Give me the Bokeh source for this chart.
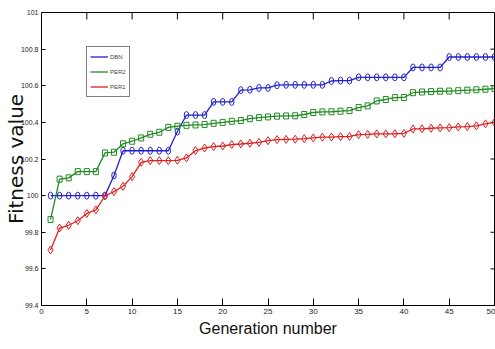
import math
from bokeh.plotting import figure
from bokeh.models import Range1d, Legend, LegendItem, FixedTicker, ColumnDataSource
from bokeh.embed import file_html
from bokeh.resources import INLINE

# ---- data ----
generations = list(range(1, 51))
dbn = [100.0, 100.0, 100.0, 100.0, 100.0, 100.0, 100.0, 100.11, 100.245, 100.245,
       100.245, 100.245, 100.245, 100.245, 100.35, 100.44, 100.44, 100.44, 100.512, 100.512,
       100.512, 100.576, 100.578, 100.588, 100.588, 100.603, 100.605, 100.605, 100.605, 100.605,
       100.605, 100.626, 100.628, 100.628, 100.646, 100.646, 100.646, 100.646, 100.646, 100.646,
       100.70, 100.70, 100.70, 100.70, 100.757, 100.757, 100.757, 100.757, 100.757, 100.757]
per2 = [99.87, 100.09, 100.097, 100.131, 100.131, 100.131, 100.233, 100.237, 100.283, 100.297,
        100.315, 100.335, 100.346, 100.373, 100.379, 100.384, 100.386, 100.388, 100.395, 100.40,
        100.406, 100.41, 100.42, 100.426, 100.43, 100.434, 100.435, 100.436, 100.443, 100.454,
        100.457, 100.458, 100.461, 100.464, 100.481, 100.49, 100.517, 100.525, 100.535, 100.536,
        100.562, 100.566, 100.568, 100.570, 100.571, 100.573, 100.576, 100.578, 100.581, 100.584]
per1 = [99.703, 99.823, 99.838, 99.863, 99.903, 99.922, 99.998, 100.022, 100.051, 100.104,
        100.182, 100.191, 100.191, 100.191, 100.193, 100.206, 100.246, 100.26, 100.268, 100.271,
        100.279, 100.282, 100.286, 100.291, 100.30, 100.306, 100.307, 100.308, 100.311, 100.315,
        100.319, 100.32, 100.322, 100.323, 100.333, 100.334, 100.337, 100.337, 100.338, 100.34,
        100.364, 100.365, 100.368, 100.37, 100.371, 100.375, 100.377, 100.381, 100.392, 100.40]
x_ticks = [0, 5, 10, 15, 20, 25, 30, 35, 40, 45, 50]
y_ticks = [99.4, 99.6, 99.8, 100.0, 100.2, 100.4, 100.6, 100.8, 101.0]
y_tick_labels = ["99.4", "99.6", "99.8", "100", "100.2", "100.4", "100.6", "100.8", "101"]
series_names = ["DBN", "PER2", "PER1"]
x_min, x_max = 0, 50
y_min, y_max = 99.4, 101.0

BLUE = "#2020cc"
GREEN = "#208a20"
RED = "#dd2020"
SANS = "Liberation Sans"

src = ColumnDataSource(dict(x=generations, dbn=dbn, per2=per2, per1=per1))

p = figure(width=495, height=349, output_backend="svg", toolbar_location=None,
           x_range=Range1d(x_min, x_max), y_range=Range1d(y_min, y_max),
           min_border_left=41, min_border_right=1, min_border_top=12, min_border_bottom=44)
p.background_fill_color = "white"
p.border_fill_color = "white"
p.outline_line_color = "black"
p.outline_line_width = 1
p.xgrid.visible = False
p.ygrid.visible = False

# bottom axis
xa = p.xaxis[0]
xa.ticker = FixedTicker(ticks=x_ticks)
xa.major_tick_in = 7
xa.major_tick_out = 0
xa.minor_tick_line_color = None
xa.axis_line_color = "black"
xa.major_label_text_font = SANS
xa.major_label_text_font_size = "8px"
xa.major_label_text_color = "#222222"
xa.major_label_standoff = 3
xa.axis_label = "Generation number"
xa.axis_label_text_font = SANS
xa.axis_label_text_font_style = "normal"
xa.axis_label_text_font_size = "16px"
xa.axis_label_text_color = "#111111"
xa.axis_label_standoff = 3

# left axis
ya = p.yaxis[0]
ya.ticker = FixedTicker(ticks=y_ticks)
ya.major_label_overrides = {t: s for t, s in zip(y_ticks, y_tick_labels)}
ya.major_tick_in = 4
ya.major_tick_out = 0
ya.minor_tick_line_color = None
ya.axis_line_color = "black"
ya.major_label_text_font = SANS
ya.major_label_text_font_size = "7px"
ya.major_label_text_color = "#222222"
ya.major_label_standoff = 3
ya.axis_label = "Fitness value"
ya.axis_label_text_font = "DejaVu Sans"
ya.axis_label_text_font_style = "normal"
ya.axis_label_text_font_size = "20px"
ya.axis_label_text_color = "#111111"
ya.axis_label_standoff = -10

# mirrored inward ticks on the top and right edges (half of each dash is clipped by the frame)
p.scatter(x=x_ticks, y=[y_max] * len(x_ticks), marker="dash", angle=math.pi / 2, size=14,
          line_color="black", line_width=1)
p.scatter(x=[x_max] * len(y_ticks), y=y_ticks, marker="dash", size=8,
          line_color="black", line_width=1)

# lines
l_dbn = p.line("x", "dbn", source=src, color=BLUE, line_width=1.3)
l_per2 = p.line("x", "per2", source=src, color=GREEN, line_width=1.3)
l_per1 = p.line("x", "per1", source=src, color=RED, line_width=1.3)

# markers (slightly tall, as in the reference)
p.ellipse("x", "dbn", source=src, width=4.5, height=7, width_units="screen", height_units="screen",
          fill_color=None, line_color=BLUE, line_width=1)
p.rect("x", "per2", source=src, width=5, height=6, width_units="screen", height_units="screen",
       fill_color=None, line_color=GREEN, line_width=1)
p.scatter("x", "per1", source=src, marker="diamond", size=8, fill_color=None, line_color=RED, line_width=1)

# legend glyph markers (no data, legend only)
m_dbn = p.scatter(x=[], y=[], marker="circle", size=5, fill_color=None, line_color=BLUE)
m_per2 = p.scatter(x=[], y=[], marker="square", size=5, fill_color=None, line_color=GREEN)
m_per1 = p.scatter(x=[], y=[], marker="diamond", size=7, fill_color=None, line_color=RED)

legend = Legend(items=[
    LegendItem(label=series_names[0], renderers=[l_dbn, m_dbn]),
    LegendItem(label=series_names[1], renderers=[l_per2, m_per2]),
    LegendItem(label=series_names[2], renderers=[l_per1, m_per1]),
], location=(45, 208), border_line_color="black", border_line_width=1,
   background_fill_color="white", background_fill_alpha=1,
   label_text_font=SANS, label_text_font_size="6px", label_standoff=2, label_width=14,
   glyph_width=18, glyph_height=13, label_height=13, spacing=2, padding=3, margin=0)
p.add_layout(legend)

open("out.html", "w").write(file_html(p, INLINE))
